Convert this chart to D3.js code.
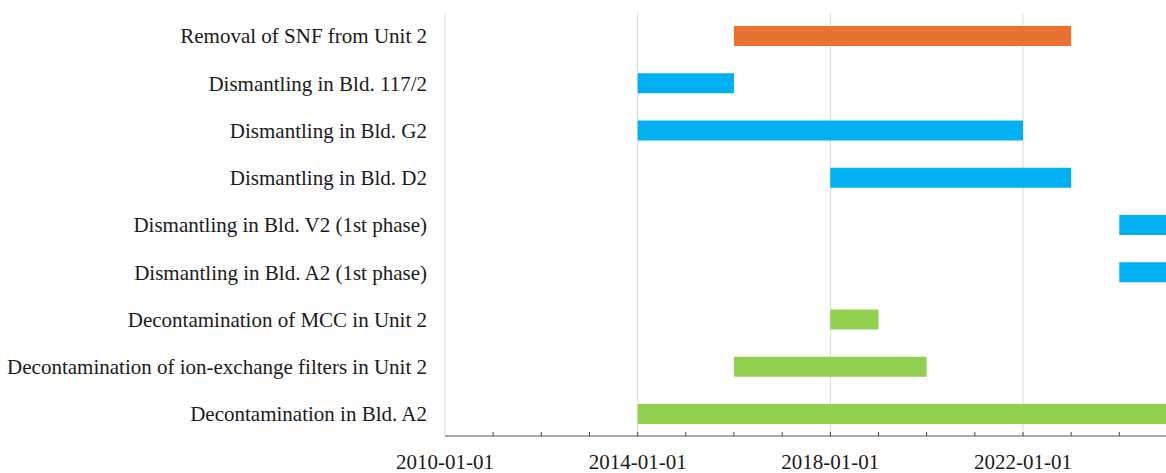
<!doctype html>
<html>
  <head>
    <style>
      body { margin: 0; background: white; }
      svg { display: block; }
      .label { font-family: 'Liberation Serif', 'Times New Roman', serif; font-size: 21px; fill: #1a1a1a; }
    </style>
    <script src="https://d3js.org/d3.v7.min.js"></script>
  </head>
  <body>
    <svg width="1166" height="473"></svg>
    <script>
      // rows top to bottom
      var tasks = [
        "Removal of SNF from Unit 2",
        "Dismantling in Bld. 117/2",
        "Dismantling in Bld. G2",
        "Dismantling in Bld. D2",
        "Dismantling in Bld. V2 (1st phase)",
        "Dismantling in Bld. A2 (1st phase)",
        "Decontamination of MCC in Unit 2",
        "Decontamination of ion-exchange filters in Unit 2",
        "Decontamination in Bld. A2"
      ];
      var starts = ["2016-01-01", "2014-01-01", "2014-01-01", "2018-01-01", "2024-01-01",
                    "2024-01-01", "2018-01-01", "2016-01-01", "2014-01-01"];
      var ends = ["2023-01-01", "2016-01-01", "2022-01-01", "2023-01-01", "2027-01-01",
                  "2027-01-01", "2019-01-01", "2020-01-01", "2028-01-01"];
      var kinds = ["removal", "dismantling", "dismantling", "dismantling", "dismantling",
                   "dismantling", "decontamination", "decontamination", "decontamination"];
      var tickLabels = ["2010-01-01", "2014-01-01", "2018-01-01", "2022-01-01"];

      var colors = { removal: "#E97132", dismantling: "#00B0F0", decontamination: "#92D050" };
      var parse = d3.timeParse("%Y-%m-%d");

      var svg = d3.select("svg");
      var plotLeft = 445, plotTop = 13, axisY = 436;

      var x = d3.scaleTime()
        .domain([parse("2010-01-01"), parse("2022-01-01")])
        .range([plotLeft, 1023]);
      var y = d3.scaleBand().domain(tasks).range([plotTop + 1, axisY]).paddingInner(0.577).paddingOuter(0.254);

      // grid
      svg.append("line").attr("x1", plotLeft).attr("x2", plotLeft).attr("y1", plotTop).attr("y2", axisY)
        .attr("stroke", "#d9d9d9");
      svg.selectAll(".grid").data(tickLabels.slice(1)).enter().append("line")
        .attr("x1", function(d){ return x(parse(d)); })
        .attr("x2", function(d){ return x(parse(d)); })
        .attr("y1", plotTop).attr("y2", axisY)
        .attr("stroke", "#d9d9d9");

      // bars
      svg.selectAll(".bar").data(tasks).enter().append("rect")
        .attr("x", function(d, i){ return x(parse(starts[i])); })
        .attr("y", function(d){ return y(d); })
        .attr("width", function(d, i){ return x(parse(ends[i])) - x(parse(starts[i])); })
        .attr("height", y.bandwidth())
        .attr("fill", function(d, i){ return colors[kinds[i]]; });

      // task labels
      svg.selectAll(".task").data(tasks).enter().append("text")
        .attr("class", "label")
        .attr("x", 427)
        .attr("y", function(d){ return y(d) + y.bandwidth() / 2; })
        .attr("dy", "0.35em")
        .attr("text-anchor", "end")
        .text(function(d){ return d; });

      // time axis
      var ax = svg.append("g").attr("transform", "translate(0," + axisY + ")");
      ax.append("line").attr("x1", plotLeft).attr("x2", 1166).attr("stroke", "#555").attr("stroke-width", 1.2);
      ax.selectAll(".tick").data(d3.timeYear.range(parse("2011-01-01"), parse("2026-01-01"))).enter()
        .append("line")
        .attr("x1", function(d){ return x(d); })
        .attr("x2", function(d){ return x(d); })
        .attr("y1", -4).attr("y2", 0)
        .attr("stroke", "#444");
      ax.selectAll(".tl").data(tickLabels).enter().append("text")
        .attr("class", "label")
        .attr("x", function(d){ return x(parse(d)); })
        .attr("y", 33)
        .attr("text-anchor", "middle")
        .text(function(d){ return d; });
    </script>
  </body>
</html>
